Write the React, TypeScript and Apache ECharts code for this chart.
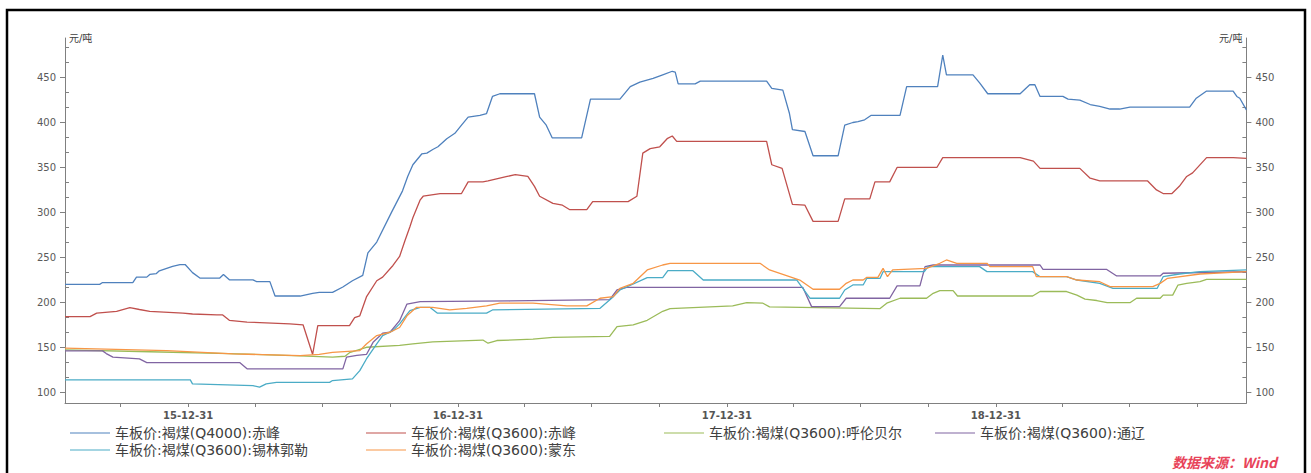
import React, { useEffect, useRef } from 'react';
import * as echarts from 'echarts';

const SERIES_NAMES = [
  '车板价:褐煤(Q4000):赤峰',
  '车板价:褐煤(Q3600):赤峰',
  '车板价:褐煤(Q3600):呼伦贝尔',
  '车板价:褐煤(Q3600):通辽',
  '车板价:褐煤(Q3600):锡林郭勒',
  '车板价:褐煤(Q3600):蒙东',
];
const COLORS = ['#4F81BD', '#C0504D', '#9BBB59', '#8064A2', '#4BACC6', '#F79646'];

const X_MIN = '2015-07-17';
const X_MAX = '2019-12-06';
const QUARTER_ENDS = [
  '2015-09-30', '2015-12-31', '2016-03-31', '2016-06-30', '2016-09-30', '2016-12-31',
  '2017-03-31', '2017-06-30', '2017-09-30', '2017-12-31', '2018-03-31', '2018-06-30',
  '2018-09-30', '2018-12-31', '2019-03-31', '2019-06-30', '2019-09-30',
];
const YEAR_ENDS = ['2015-12-31', '2016-12-31', '2017-12-31', '2018-12-31'];
const Y_MIN = 88;
const Y_MAX = 494;
const Y_UNIT = '元/吨';
const SOURCE = '数据来源：Wind';

const Q4000_CHIFENG: [string, number][] = [
  ['2015-07-17', 220], ['2015-09-02', 220], ['2015-09-06', 222], ['2015-10-17', 222], ['2015-10-22', 228],
  ['2015-11-05', 228], ['2015-11-09', 231], ['2015-11-18', 232], ['2015-11-22', 235], ['2015-12-10', 240],
  ['2015-12-20', 242], ['2015-12-27', 242], ['2016-01-06', 233], ['2016-01-16', 227], ['2016-02-12', 227],
  ['2016-02-17', 231], ['2016-02-25', 225], ['2016-03-28', 225], ['2016-04-02', 223], ['2016-04-20', 223],
  ['2016-04-27', 207], ['2016-05-31', 207], ['2016-06-17', 210], ['2016-06-26', 211], ['2016-07-14', 211],
  ['2016-07-28', 217], ['2016-08-10', 224], ['2016-08-24', 230], ['2016-08-31', 255], ['2016-09-12', 267],
  ['2016-10-02', 300], ['2016-10-17', 324], ['2016-10-24', 340], ['2016-10-31', 353], ['2016-11-12', 365],
  ['2016-11-19', 366], ['2016-11-27', 370], ['2016-12-04', 373], ['2016-12-16', 382], ['2016-12-27', 388],
  ['2017-01-05', 397], ['2017-01-14', 406], ['2017-01-30', 408], ['2017-02-08', 410], ['2017-02-16', 429],
  ['2017-02-26', 432], ['2017-04-14', 432], ['2017-04-21', 406], ['2017-04-30', 397], ['2017-05-08', 383],
  ['2017-06-17', 383], ['2017-06-29', 426], ['2017-08-08', 426], ['2017-08-22', 440], ['2017-09-04', 445],
  ['2017-09-22', 449], ['2017-10-05', 453], ['2017-10-18', 457], ['2017-10-22', 456], ['2017-10-26', 443],
  ['2017-11-18', 443], ['2017-11-25', 446], ['2018-02-23', 446], ['2018-03-02', 438], ['2018-03-17', 436],
  ['2018-03-26', 410], ['2018-03-30', 392], ['2018-04-16', 390], ['2018-04-27', 363], ['2018-05-31', 363],
  ['2018-06-09', 397], ['2018-06-20', 400], ['2018-06-27', 401], ['2018-07-06', 403], ['2018-07-15', 408],
  ['2018-08-23', 408], ['2018-09-01', 440], ['2018-10-13', 440], ['2018-10-20', 475], ['2018-10-25', 453],
  ['2018-11-30', 453], ['2018-12-09', 444], ['2018-12-20', 432], ['2019-02-02', 432], ['2019-02-15', 442],
  ['2019-02-22', 442], ['2019-03-01', 429], ['2019-04-01', 429], ['2019-04-08', 426], ['2019-04-24', 425],
  ['2019-05-08', 420], ['2019-05-21', 418], ['2019-06-04', 415], ['2019-06-17', 415], ['2019-07-01', 417],
  ['2019-09-20', 417], ['2019-09-29', 427], ['2019-10-13', 435], ['2019-11-18', 435], ['2019-11-23', 429],
  ['2019-11-27', 427], ['2019-12-06', 414],
];

const Q3600_CHIFENG: [string, number][] = [
  ['2015-07-17', 184], ['2015-08-20', 184], ['2015-08-29', 188], ['2015-09-25', 190], ['2015-10-13', 194],
  ['2015-10-26', 192], ['2015-11-09', 190], ['2015-12-24', 188], ['2016-01-06', 187], ['2016-02-08', 186],
  ['2016-02-16', 186], ['2016-02-25', 180], ['2016-03-20', 178], ['2016-05-17', 176], ['2016-06-04', 175],
  ['2016-06-17', 142], ['2016-06-24', 174], ['2016-08-06', 174], ['2016-08-13', 183], ['2016-08-20', 185],
  ['2016-08-29', 206], ['2016-09-12', 224], ['2016-09-20', 228], ['2016-10-04', 241], ['2016-10-13', 251],
  ['2016-10-20', 268], ['2016-10-27', 284], ['2016-10-31', 294], ['2016-11-10', 314], ['2016-11-14', 318],
  ['2016-12-07', 321], ['2017-01-05', 321], ['2017-01-14', 334], ['2017-02-03', 334], ['2017-02-10', 335],
  ['2017-03-08', 340], ['2017-03-19', 342], ['2017-04-05', 340], ['2017-04-14', 329], ['2017-04-21', 318],
  ['2017-05-09', 310], ['2017-05-22', 308], ['2017-06-01', 303], ['2017-06-24', 303], ['2017-07-02', 312],
  ['2017-08-19', 312], ['2017-08-31', 318], ['2017-09-08', 366], ['2017-09-18', 371], ['2017-10-01', 373],
  ['2017-10-11', 382], ['2017-10-18', 385], ['2017-10-24', 379], ['2018-02-23', 379], ['2018-03-02', 353],
  ['2018-03-16', 349], ['2018-03-30', 309], ['2018-04-16', 308], ['2018-04-27', 290], ['2018-05-31', 290],
  ['2018-06-09', 315], ['2018-07-13', 315], ['2018-07-20', 334], ['2018-08-09', 334], ['2018-08-19', 350],
  ['2018-10-12', 350], ['2018-10-20', 361], ['2019-02-02', 361], ['2019-02-20', 357], ['2019-03-01', 349],
  ['2019-04-24', 349], ['2019-05-08', 338], ['2019-05-21', 335], ['2019-07-25', 335], ['2019-08-06', 325],
  ['2019-08-15', 321], ['2019-08-27', 321], ['2019-09-06', 329], ['2019-09-16', 340], ['2019-09-24', 344],
  ['2019-10-13', 361], ['2019-11-18', 361], ['2019-12-06', 360],
];

const Q3600_HULUNBEIER: [string, number][] = [
  ['2015-07-17', 147], ['2015-11-09', 145], ['2016-02-25', 143], ['2016-05-31', 140.5], ['2016-07-14', 139],
  ['2016-07-31', 140], ['2016-08-06', 144], ['2016-08-29', 150], ['2016-10-13', 152], ['2016-10-31', 153.7],
  ['2016-11-27', 156], ['2017-02-03', 158], ['2017-02-10', 154.5], ['2017-02-22', 157.5], ['2017-04-12', 159],
  ['2017-05-09', 161], ['2017-07-25', 162], ['2017-08-04', 173], ['2017-08-26', 175], ['2017-09-14', 180],
  ['2017-10-05', 190], ['2017-10-15', 193], ['2018-01-08', 196], ['2018-01-27', 199.6], ['2018-02-18', 199],
  ['2018-02-27', 195], ['2018-07-27', 193], ['2018-08-05', 199], ['2018-08-23', 204.5], ['2018-09-28', 204.5],
  ['2018-10-07', 210], ['2018-10-16', 213], ['2018-11-03', 213], ['2018-11-09', 207], ['2019-02-19', 207],
  ['2019-03-01', 212], ['2019-04-06', 212], ['2019-04-20', 208], ['2019-05-01', 203.5], ['2019-05-17', 202],
  ['2019-05-31', 199.6], ['2019-07-01', 199.6], ['2019-07-10', 204.5], ['2019-08-11', 204.5], ['2019-08-15', 208],
  ['2019-08-28', 208], ['2019-09-04', 219], ['2019-09-16', 221], ['2019-10-04', 223], ['2019-10-13', 225.6],
  ['2019-12-06', 225.6],
];

const Q3600_TONGLIAO: [string, number][] = [
  ['2015-07-17', 146], ['2015-09-06', 146], ['2015-09-11', 143], ['2015-09-20', 139], ['2015-10-26', 137],
  ['2015-11-05', 133], ['2016-03-10', 133], ['2016-03-20', 126], ['2016-07-28', 126], ['2016-08-02', 139],
  ['2016-08-16', 141], ['2016-08-29', 142], ['2016-09-07', 155.5], ['2016-09-20', 165.6], ['2016-09-30', 166.7],
  ['2016-10-13', 179.6], ['2016-10-23', 198], ['2016-11-10', 200.8], ['2017-03-12', 201.5], ['2017-07-25', 203],
  ['2017-08-04', 213.7], ['2017-08-17', 216.7], ['2018-04-13', 216.7], ['2018-04-25', 195.2], ['2018-06-02', 195.2],
  ['2018-06-11', 204.5], ['2018-08-09', 204.5], ['2018-08-19', 218.2], ['2018-09-19', 218.2], ['2018-09-26', 239.7],
  ['2018-10-07', 241.5], ['2019-03-01', 241.5], ['2019-03-05', 236.7], ['2019-05-30', 236.7], ['2019-06-13', 229.3],
  ['2019-08-11', 229.3], ['2019-08-15', 232.3], ['2019-12-06', 234],
];

const Q3600_XILINGUOLE: [string, number][] = [
  ['2015-07-17', 113.7], ['2016-01-03', 113.7], ['2016-01-06', 109.3], ['2016-03-28', 107.4], ['2016-04-06', 105.6],
  ['2016-04-15', 109.3], ['2016-04-29', 111], ['2016-07-10', 111], ['2016-07-14', 113], ['2016-08-10', 114.8],
  ['2016-08-20', 124], ['2016-08-29', 137], ['2016-09-12', 153.7], ['2016-09-20', 163], ['2016-10-04', 168.5],
  ['2016-10-13', 176], ['2016-10-27', 190.7], ['2016-11-10', 194.4], ['2016-11-23', 194.4], ['2016-12-03', 188],
  ['2017-02-08', 188], ['2017-02-16', 191.5], ['2017-07-12', 193.3], ['2017-07-30', 206.3], ['2017-08-08', 213.7],
  ['2017-09-14', 227.4], ['2017-10-05', 227.4], ['2017-10-12', 235.2], ['2017-11-15', 235.2], ['2017-11-29', 224.8],
  ['2018-04-05', 224.8], ['2018-04-23', 204.5], ['2018-06-02', 204.5], ['2018-06-09', 213.7], ['2018-06-20', 219.3],
  ['2018-07-04', 219.3], ['2018-07-09', 226.7], ['2018-07-27', 226.7], ['2018-07-31', 234.1], ['2018-09-25', 234.1],
  ['2018-09-30', 239.7], ['2018-12-09', 239.7], ['2018-12-19', 234.1], ['2019-02-19', 234.1], ['2019-03-01', 228.5],
  ['2019-04-06', 228.5], ['2019-04-20', 224.8], ['2019-05-21', 221.1], ['2019-06-08', 215.6], ['2019-08-07', 215.6],
  ['2019-08-15', 228.5], ['2019-09-06', 231.5], ['2019-10-04', 234.1], ['2019-12-06', 236],
];

const Q3600_MENGDONG: [string, number][] = [
  ['2015-07-17', 149], ['2015-12-02', 146.3], ['2016-03-01', 142.6], ['2016-05-31', 140.7], ['2016-06-26', 142],
  ['2016-07-14', 144.4], ['2016-08-20', 146.3], ['2016-08-29', 153.7], ['2016-09-12', 163], ['2016-09-30', 166.7],
  ['2016-10-13', 172], ['2016-10-23', 185], ['2016-11-05', 194.4], ['2016-11-27', 194.4], ['2016-12-20', 191.5],
  ['2017-01-12', 193.3], ['2017-02-08', 196], ['2017-02-26', 199], ['2017-04-12', 199], ['2017-05-28', 196],
  ['2017-06-24', 196], ['2017-07-12', 204.5], ['2017-07-30', 206.3], ['2017-08-08', 215.6], ['2017-08-26', 221.1],
  ['2017-09-14', 236], ['2017-10-05', 241.5], ['2017-10-15', 243.4], ['2018-02-14', 243.4], ['2018-02-27', 236],
  ['2018-04-09', 224.8], ['2018-04-27', 214.5], ['2018-06-02', 214.5], ['2018-06-11', 221.1], ['2018-06-20', 224.8],
  ['2018-07-04', 224.8], ['2018-07-09', 227.8], ['2018-07-24', 227.8], ['2018-07-31', 237.8], ['2018-08-06', 228.5],
  ['2018-08-13', 236], ['2018-09-28', 237.8], ['2018-10-16', 243.4], ['2018-10-25', 247.1], ['2018-11-08', 243.4],
  ['2018-12-19', 243.4], ['2018-12-23', 239.7], ['2019-02-19', 239.7], ['2019-02-24', 228.5], ['2019-04-06', 228.5],
  ['2019-04-20', 224.8], ['2019-05-21', 222.9], ['2019-06-04', 217.4], ['2019-08-01', 217.4], ['2019-08-11', 221.1],
  ['2019-08-21', 226.7], ['2019-10-04', 231.5], ['2019-12-06', 234.1],
];

const SERIES_DATA = [
  Q4000_CHIFENG, Q3600_CHIFENG, Q3600_HULUNBEIER, Q3600_TONGLIAO, Q3600_XILINGUOLE, Q3600_MENGDONG,
];

const FONT = "'DejaVu Sans', 'Noto Sans CJK SC', sans-serif";
const AXIS_COLOR = '#808080';

function ts(s: string): number {
  const [y, m, d] = s.split('-').map(Number);
  return Date.UTC(y, m - 1, d);
}
function pad(n: number) {
  return (n < 10 ? '0' : '') + n;
}
function fmtDate(v: number) {
  const d = new Date(v);
  return `${String(d.getUTCFullYear()).slice(2)}-${pad(d.getUTCMonth() + 1)}-${pad(d.getUTCDate())}`;
}

export default function App() {
  const ref = useRef<HTMLDivElement>(null);
  useEffect(() => {
    const chart = echarts.init(ref.current!, null, { renderer: 'svg' });
    const legendPos = [
      [70, 426], [366, 426], [664, 426], [935, 426],
      [70, 443], [366, 443],
    ];
    const mainY = (pos: 'left' | 'right') => ({
      type: 'value',
      position: pos,
      min: Y_MIN,
      max: Y_MAX,
      splitNumber: 8,
      name: Y_UNIT,
      nameLocation: 'end',
      nameGap: 0,
      nameTextStyle: {
        fontSize: 10,
        color: '#404040',
        fontFamily: FONT,
        align: pos === 'left' ? 'left' : 'right',
        verticalAlign: 'middle',
        padding: pos === 'left' ? [0, 0, 0, 4] : [0, 4, 0, 0],
      },
      axisLine: { show: true, lineStyle: { color: AXIS_COLOR, width: 1 } },
      axisTick: { show: true, inside: false, length: 5, lineStyle: { color: AXIS_COLOR } },
      axisLabel: {
        show: true,
        margin: 9,
        fontSize: 10,
        color: '#595959',
        fontFamily: FONT,
        showMinLabel: false,
        showMaxLabel: false,
      },
      splitLine: { show: false },
    });
    const minorY = (pos: 'left' | 'right') => ({
      type: 'value',
      position: pos,
      min: Y_MIN,
      max: Y_MAX,
      splitNumber: 8,
      axisLine: { show: false },
      axisTick: { show: false, inside: true },
      axisLabel: { show: false },
      splitLine: { show: false },
      minorTick: { show: true, splitNumber: 3, length: 4, lineStyle: { color: AXIS_COLOR } },
      minorSplitLine: { show: false },
    });

    chart.setOption({
      animation: false,
      backgroundColor: '#ffffff',
      color: COLORS,
      grid: { left: 65, right: 64.6, top: 38, bottom: 70, containLabel: false },
      xAxis: {
        type: 'value',
        min: ts(X_MIN),
        max: ts(X_MAX),
        axisLine: { show: true, lineStyle: { color: AXIS_COLOR, width: 1 } },
        axisTick: {
          show: true,
          length: 4,
          customValues: QUARTER_ENDS.map(ts),
          lineStyle: { color: AXIS_COLOR },
        },
        axisLabel: {
          show: true,
          customValues: YEAR_ENDS.map(ts),
          formatter: (v: number) => fmtDate(v),
          margin: 7,
          fontSize: 10,
          fontWeight: 'bold',
          color: '#555555',
          fontFamily: FONT,
        },
        splitLine: { show: false },
      },
      yAxis: [mainY('left'), mainY('right'), minorY('left'), minorY('right')],
      legend: SERIES_NAMES.map((name, i) => ({
        data: [name],
        left: legendPos[i][0],
        top: legendPos[i][1],
        padding: 0,
        icon: 'rect',
        itemWidth: 40,
        itemHeight: 1.2,
        itemGap: 0,
        textStyle: { fontSize: 14, color: '#404040', fontFamily: FONT },
      })),
      series: SERIES_NAMES.map((name, i) => ({
        name,
        type: 'line',
        yAxisIndex: 0,
        showSymbol: false,
        symbol: 'none',
        lineStyle: { width: 1.3, color: COLORS[i] },
        itemStyle: { color: COLORS[i] },
        data: SERIES_DATA[i].map(([d, v]) => [ts(d), v]),
      })),
      graphic: [
        {
          type: 'rect',
          silent: true,
          z: 100,
          shape: { x: 7, y: 10, width: 1298, height: 520 },
          style: { fill: 'none', stroke: '#000000', lineWidth: 2.5 },
        },
        {
          type: 'text',
          silent: true,
          x: 1277,
          y: 462,
          style: {
            text: SOURCE,
            fill: '#E8435A',
            font: "italic bold 14px 'Noto Sans CJK SC', sans-serif",
            align: 'right',
            verticalAlign: 'middle',
          },
        },
      ],
    });
    return () => chart.dispose();
  }, []);
  return (
    <div
      ref={ref}
      style={{ position: 'fixed', left: 0, top: 0, width: 1311, height: 473, background: '#fff' }}
    />
  );
}
